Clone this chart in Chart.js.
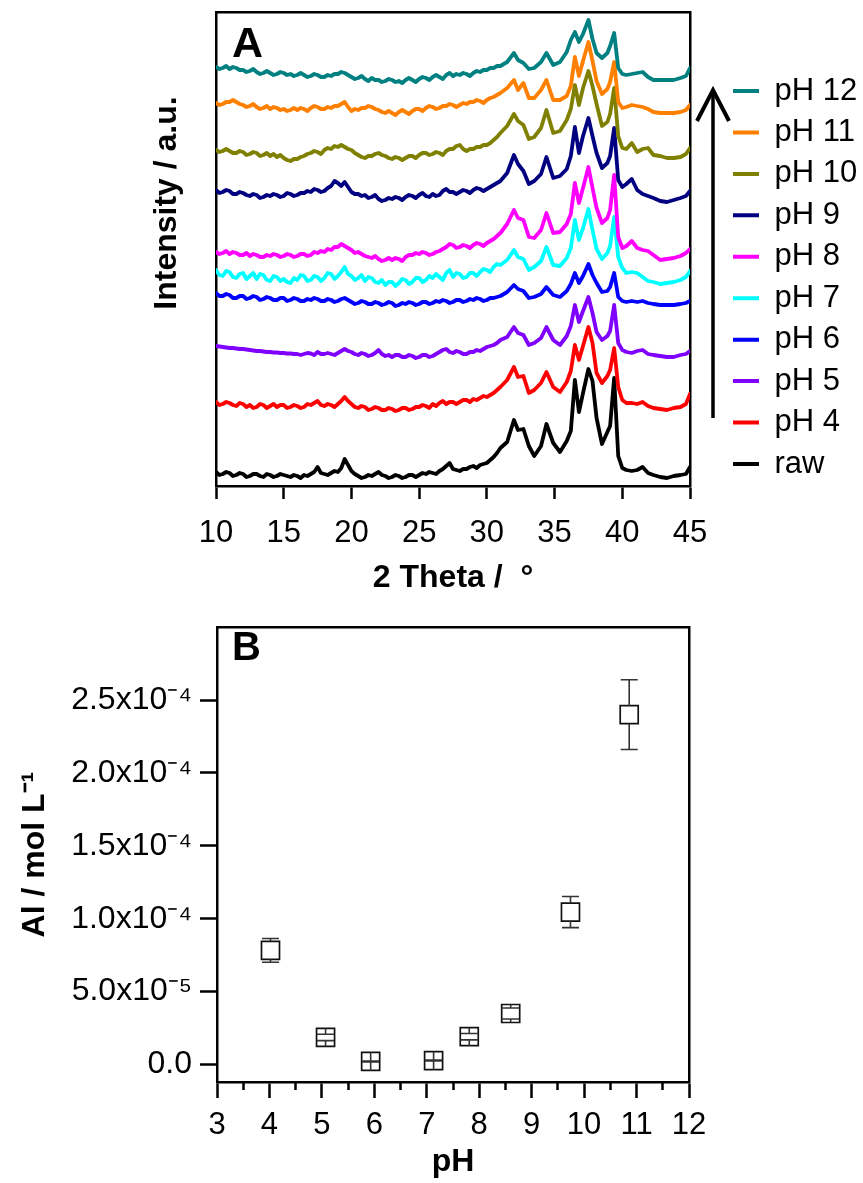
<!DOCTYPE html>
<html>
<head>
<meta charset="utf-8">
<script src="https://cdn.jsdelivr.net/npm/chart.js@4.4.0/dist/chart.umd.min.js"></script>
<style>
html,body{margin:0;padding:0;background:#fff;}
#wrap{position:relative;width:863px;height:1183px;background:#fff;overflow:hidden;}
canvas{position:absolute;left:0;}
#cA{top:0;}
#cB{top:600px;}
</style>
</head>
<body>
<div id="wrap">
<canvas id="cA" width="863" height="600"></canvas>
<canvas id="cB" width="863" height="583"></canvas>
</div>
<script>
// ---------- Panel A: XRD patterns (stacked, arbitrary units) ----------
const twoTheta = [
  10,10.25,10.5,10.75, 11,11.25,11.5,11.75, 12,12.25,12.5,12.75, 13,13.25,13.5,13.75, 14,14.25,14.5,14.75,
  15,15.25,15.5,15.75, 16,16.25,16.5,16.75, 17,17.25,17.5,17.75, 18,18.25,18.5,18.75, 19,19.25,19.5,19.75,
  20,20.25,20.5,20.75, 21,21.25,21.5,21.75, 22,22.25,22.5,22.75, 23,23.25,23.5,23.75, 24,24.25,24.5,24.75,
  25,25.25,25.5,25.75, 26,26.25,26.5,26.75, 27,27.25,27.5,27.75, 28,28.25,28.5,28.75, 29,29.25,29.5,29.75,
  30,30.25,30.5,30.75, 31,
  31.5,32.0,32.3,32.7,33.1,33.5,34.0,34.4,34.9,35.4,35.9,36.2,36.5,36.8,37.1,37.5,37.8,38.1,38.5,38.9,39.1,39.4,39.7,40.0,40.3,40.7,41.1,41.5,41.9,42.3,42.8,43.3,43.8,44.3,44.7,45];

const rawI = [14,11,12,14, 13,10,11,13, 12,9,10,12, 12,10,9,12, 11,9,10,12, 11,10,9,11, 10,8,11,10, 12,14,19,13, 12,11,13,15, 14,18,27,21,
  15,12,10,8, 9,11,10,12, 14,11,10,8, 9,11,10,8, 9,11,11,9, 11,13,12,14, 13,12,15,17, 20,23,17,16, 15,17,17,19, 20,18,21,22, 23,26,29,33, 38,
  44,66,56,57,40,30,40,62,43,34,45,55,106,74,93,117,105,68,42,54,60,108,30,18,16,15,16,19,13,11,9,8,10,11,12,19];
const pH4I = [84,81,82,84, 83,81,80,83, 82,79,81,78, 79,82,81,78, 80,82,79,81, 81,78,79,81, 80,78,79,82, 81,83,85,81, 80,82,81,79, 82,85,89,85,
  82,79,78,80, 79,76,77,79, 78,76,76,78, 77,75,76,78, 78,76,77,79, 79,81,80,78, 82,80,83,85, 82,84,84,82, 84,86,86,84, 87,86,88,90, 89,91,93,96, 99,
  106,119,109,110,93,96,103,114,99,94,104,115,141,126,140,159,143,113,103,110,116,138,99,86,83,83,82,84,80,78,77,76,78,79,82,92];
const pH5I = [140,139.5,139,138.5, 138,138,137.5,137, 137,136.5,136,135.5, 135,135,134.5,134, 134,133.5,133.5,133, 133,132.5,132.5,132, 132,131,132,133, 132.5,131,134,132, 132,133,132,131, 133,135,137,135,
  134,132,131,133, 132,130,131,133, 136,132,130,131, 129,131,131,129, 129,131,130,128, 129,131,131,129, 130,132,134,136, 137,134,133,135, 134,132,132,134, 134,136,135,137, 139,140,141,143, 146,
  149,159,153,151,141,143,148,159,146,141,150,160,181,164,175,189,173,154,146,150,155,181,143,136,134,133,135,136,132,131,130,129,129,131,132,135];
const pH6I = [193,190,190,192, 191,188,188,190, 190,187,188,190, 189,186,187,189, 188,186,186,188, 188,185,186,188, 187,185,185,187, 186,188,187,185, 185,187,186,184, 185,187,188,186,
  184,182,183,185, 184,182,182,184, 183,181,182,184, 183,180,181,183, 182,184,183,181, 182,184,184,182, 183,185,184,186, 185,183,184,186, 186,184,185,187, 186,188,187,185, 186,188,188,189, 190,
  194,201,197,195,188,189,192,199,191,189,195,202,213,203,210,222,211,203,194,195,199,213,189,185,184,185,184,185,183,182,181,181,181,182,183,185];
const pH7I = [216,211,210,215, 214,209,208,212, 213,207,210,213, 207,212,211,206, 205,210,209,205, 207,204,203,208, 206,211,210,205, 206,210,209,205, 208,213,212,207, 210,214,219,212,
  210,206,208,211, 205,209,208,204, 203,206,201,204, 204,200,203,207, 206,202,204,208, 208,204,206,210, 208,212,209,206, 213,216,209,213, 212,208,209,213, 213,210,214,217, 216,214,219,222, 221,
  226,236,229,227,216,219,225,239,221,220,228,238,266,246,258,277,256,237,227,233,240,269,229,218,213,214,213,209,205,204,202,203,204,206,209,215];
const pH8I = [234,232,233,235, 232,234,233,231, 231,233,230,232, 231,229,229,231, 230,232,231,229, 230,232,231,229, 230,232,232,230, 231,234,233,235, 234,237,236,239, 239,242,240,238,
  236,233,234,232, 230,229,228,230, 227,225,226,228, 226,228,227,225, 229,231,231,233, 232,234,233,231, 232,234,235,237, 239,242,241,238, 239,241,240,238, 241,243,242,240, 243,245,247,250, 253,
  262,276,268,266,249,248,256,273,253,254,262,272,303,283,298,319,298,278,263,268,276,311,249,238,240,245,238,236,235,231,226,227,228,230,233,237];
const pH9I = [296,293,294,296, 295,292,292,294, 293,291,290,292, 291,288,289,291, 290,292,291,289, 290,293,292,290, 291,293,293,295, 294,297,296,294, 295,298,300,305, 303,300,304,299,
  294,292,292,290, 291,288,289,291, 287,285,286,288, 287,289,288,286, 289,291,290,288, 291,293,290,289, 292,290,291,295, 297,294,294,292, 294,296,295,293, 296,298,297,295, 297,299,301,303, 305,
  313,331,322,315,302,305,312,329,308,310,317,330,359,333,350,368,350,333,318,323,330,358,306,299,302,307,296,292,290,288,285,284,286,288,290,295];
const pH10I = [336,334,335,337, 335,333,333,335, 334,331,332,334, 333,330,331,333, 330,332,329,331, 328,326,325,327, 327,329,330,332, 333,335,334,332, 336,338,337,340, 339,341,339,337,
  336,333,331,329, 328,330,330,332, 333,331,330,328, 327,329,328,326, 328,330,330,328, 331,333,333,331, 332,334,333,331, 335,337,337,340, 341,337,335,337, 337,339,339,341, 341,343,346,349, 353,
  360,372,365,361,347,349,358,376,353,355,366,377,401,381,398,415,400,382,360,364,372,398,350,338,337,343,334,337,338,331,330,328,328,329,332,338];
const pH11I = [383,381,382,384, 384,386,384,382, 381,379,380,382, 379,377,378,380, 377,379,378,376, 377,375,376,378, 376,378,377,375, 378,380,379,377, 377,379,378,380, 380,382,384,379,
  375,377,376,378, 378,380,379,377, 376,374,373,375, 373,371,374,376, 374,372,375,377, 377,375,378,380, 379,377,378,380, 380,382,381,379, 381,383,382,384, 384,386,385,383, 386,388,389,391, 393,
  398,406,396,403,388,388,396,406,386,386,390,400,429,410,425,444,425,405,392,397,404,424,384,378,379,381,380,379,377,374,373,373,373,374,376,381];
const pH12I = [419,417,418,420, 417,419,418,416, 416,414,415,417, 414,412,413,415, 413,411,412,414, 413,411,412,410, 411,413,411,409, 410,412,411,409, 409,411,410,412, 412,414,413,411,
  409,407,408,410, 407,405,408,406, 406,404,405,407, 406,404,405,403, 406,408,406,404, 407,409,408,406, 409,411,409,407, 411,413,410,412, 411,413,412,410, 413,415,414,416, 416,418,418,420, 420,
  424,433,426,423,417,418,424,433,421,424,434,446,454,444,452,466,447,433,428,433,440,453,418,412,411,412,413,414,409,406,406,406,406,408,410,418];

const seriesNames  = ['pH 12','pH 11','pH 10','pH 9','pH 8','pH 7','pH 6','pH 5','pH 4','raw'];
const seriesValues = [pH12I, pH11I, pH10I, pH9I, pH8I, pH7I, pH6I, pH5I, pH4I, rawI];
const seriesColors = ['#008080','#FF8000','#808000','#000080','#FF00FF','#00FFFF','#0000FF','#8000FF','#FF0000','#000000'];
const xTicksA = [10,15,20,25,30,35,40,45];

// ---------- Panel B: dissolved Al vs pH ----------
const phValues  = [4.02, 5.07, 5.93, 7.13, 7.81, 8.60, 9.74, 10.86];
const alValues  = [7.83e-5, 1.86e-5, 0.21e-5, 0.27e-5, 1.91e-5, 3.50e-5, 1.046e-4, 2.40e-4];
const alErrors  = [0.81e-5, 0.22e-5, 0.03e-5, 0.03e-5, 0.22e-5, 0.38e-5, 1.07e-5, 2.39e-5];
const xTicksB = [3,4,5,6,7,8,9,10,11,12];
const xMinorTicksB = [3.5,4.5,5.5,6.5,7.5,8.5,9.5,10.5,11.5];
const yTicksB = [0, 5e-5, 1e-4, 1.5e-4, 2e-4, 2.5e-4];
const yTickLabelsB = ['0.0','5.0x10\u207B\u2075','1.0x10\u207B\u2074','1.5x10\u207B\u2074','2.0x10\u207B\u2074','2.5x10\u207B\u2074'];

// ---------- common settings ----------
const FONT = "'Liberation Sans', Arial, Helvetica, sans-serif";
Chart.defaults.font.family = FONT;
Chart.defaults.color = '#000';
const AX = '#000';
const AXW = 2.5;

const textPlugin = {
  id: 'panelText',
  afterDraw(chart, args, opts) {
    const ctx = chart.ctx;
    (opts.items || []).forEach(it => {
      ctx.save();
      ctx.font = it.font;
      ctx.fillStyle = '#000';
      ctx.textAlign = it.align || 'left';
      ctx.textBaseline = it.baseline || 'alphabetic';
      ctx.translate(it.x, it.y);
      if (it.rotate) ctx.rotate(it.rotate);
      ctx.fillText(it.text, 0, 0);
      ctx.restore();
    });
  }
};

const arrowPlugin = {
  id: 'upArrow',
  afterDraw(chart, args, opts) {
    if (!opts.x) return;
    const ctx = chart.ctx;
    ctx.save();
    ctx.strokeStyle = '#000';
    ctx.lineWidth = 3.5;
    ctx.lineCap = 'butt';
    ctx.lineJoin = 'miter';
    ctx.beginPath();
    ctx.moveTo(opts.x, opts.y0);
    ctx.lineTo(opts.x, opts.y1 + 3);
    ctx.stroke();
    ctx.lineWidth = 4;
    ctx.beginPath();
    ctx.moveTo(opts.x - 16, opts.y1 + 33);
    ctx.lineTo(opts.x, opts.y1 + 2);
    ctx.lineTo(opts.x + 16, opts.y1 + 33);
    ctx.stroke();
    ctx.restore();
  }
};

const errorBarPlugin = {
  id: 'errorBars',
  afterDatasetsDraw(chart, args, opts) {
    if (!opts.enabled) return;
    const {ctx, scales: {x, y}} = chart;
    const half = 9, cap = 8.5;
    ctx.save();
    ctx.strokeStyle = '#333';
    ctx.lineWidth = 1.6;
    phValues.forEach((p, i) => {
      const px = x.getPixelForValue(p);
      const py = y.getPixelForValue(alValues[i]);
      [1, -1].forEach(s => {
        const ye = y.getPixelForValue(alValues[i] + s * alErrors[i]);
        const edge = py - s * half;
        ctx.beginPath();
        ctx.moveTo(px, edge);
        ctx.lineTo(px, ye);
        ctx.moveTo(px - cap, ye);
        ctx.lineTo(px + cap, ye);
        ctx.stroke();
      });
    });
    ctx.restore();
  }
};

function frameAxis(pos, min, max, size) {
  return {
    type: 'linear', position: pos, min, max, display: true,
    ticks: {display: false},
    grid: {display: false, drawTicks: false},
    border: {display: true, color: AX, width: AXW},
    afterFit: s => { if (pos === 'top' || pos === 'bottom') s.height = size; else s.width = size; }
  };
}

// ---------- Chart A ----------
const datasetsA = seriesNames.map((name, k) => ({
  label: name,
  data: twoTheta.map((t, i) => ({x: t, y: seriesValues[k][i]})),
  borderColor: seriesColors[k],
  backgroundColor: seriesColors[k],
  borderWidth: 3.8,
  pointRadius: 0,
  tension: 0,
  fill: false,
  borderJoinStyle: 'round',
  borderCapStyle: 'round'
}));

new Chart(document.getElementById('cA'), {
  type: 'line',
  data: {datasets: datasetsA},
  plugins: [textPlugin, arrowPlugin],
  options: {
    responsive: false, animation: false, devicePixelRatio: 1, events: [],
    layout: {padding: {top: 12, left: 0, right: 0, bottom: 0}},
    scales: {
      x: {
        type: 'linear', position: 'bottom', min: 10, max: 45,
        afterBuildTicks: s => { s.ticks = xTicksA.map(v => ({value: v})); },
        ticks: {color: '#000', font: {size: 31}, padding: 15.4, autoSkip: false, maxRotation: 0},
        grid: {drawOnChartArea: false, drawTicks: true, tickLength: 13, tickWidth: AXW, tickColor: AX},
        border: {display: true, color: AX, width: AXW},
        title: {display: true, text: '2 Theta /  \u00B0', color: '#000', font: {size: 32, weight: 'bold'}, padding: {top: 0, bottom: 2.8}},
        afterFit: s => { s.height = 114; }
      },
      x2: frameAxis('top', 10, 45, 0),
      y: {
        type: 'linear', position: 'left', min: 0, max: 474,
        ticks: {display: false},
        grid: {display: false, drawTicks: false},
        border: {display: true, color: AX, width: AXW},
        afterFit: s => { s.width = 216; }
      },
      y2: frameAxis('right', 0, 474, 32.56)
    },
    plugins: {
      tooltip: {enabled: false},
      legend: {
        display: true, position: 'right', align: 'start', maxWidth: 140.44,
        title: {display: true, text: '', font: {size: 12}, padding: {top: 38.66, bottom: 0}},
        labels: {
          color: '#000', font: {size: 31}, boxWidth: 26, boxHeight: 4, padding: 10.44,
          generateLabels: chart => Chart.defaults.plugins.legend.labels.generateLabels(chart).map(l => Object.assign(l, {lineWidth: 0, fillStyle: l.strokeStyle}))
        }
      },
      panelText: {items: [
        {text: 'A', x: 232, y: 57, font: 'bold 43px ' + FONT},
        {text: 'Intensity / a.u.', x: 167, y: 203, font: 'bold 32px ' + FONT, align: 'center', baseline: 'middle', rotate: -Math.PI / 2}
      ]},
      upArrow: {x: 713, y0: 418, y1: 88}
    }
  }
});

// ---------- Chart B ----------
new Chart(document.getElementById('cB'), {
  type: 'scatter',
  data: {datasets: [{
    label: 'Al',
    data: phValues.map((p, i) => ({x: p, y: alValues[i]})),
    pointStyle: 'rect',
    pointRadius: 12.73,
    borderColor: '#111',
    borderWidth: 1.7,
    backgroundColor: 'rgba(255,255,255,0)',
    showLine: false
  }]},
  plugins: [textPlugin, errorBarPlugin],
  options: {
    responsive: false, animation: false, devicePixelRatio: 1, events: [],
    layout: {padding: {top: 7, left: 0, right: 174, bottom: 0}},
    scales: {
      xMinor: {
        type: 'linear', position: 'bottom', min: 3, max: 12, weight: 0,
        afterBuildTicks: s => { s.ticks = xMinorTicksB.map(v => ({value: v})); },
        ticks: {display: false},
        grid: {drawOnChartArea: false, drawTicks: true, tickLength: 8, tickWidth: AXW, tickColor: AX},
        border: {display: false},
        afterFit: s => { s.height = 0; }
      },
      x: {
        type: 'linear', position: 'bottom', min: 3, max: 12, weight: 1,
        afterBuildTicks: s => { s.ticks = xTicksB.map(v => ({value: v})); },
        ticks: {color: '#000', font: {size: 31}, padding: 8.4, autoSkip: false, maxRotation: 0},
        grid: {drawOnChartArea: false, drawTicks: true, tickLength: 16, tickWidth: AXW, tickColor: AX},
        border: {display: true, color: AX, width: AXW},
        title: {display: true, text: 'pH', color: '#000', font: {size: 32, weight: 'bold'}, padding: {top: 0, bottom: 1.8}},
        afterFit: s => { s.height = 101; }
      },
      x2: frameAxis('top', 3, 12, 0),
      y: {
        type: 'linear', position: 'left', min: -1.2e-5, max: 3.0e-4,
        afterBuildTicks: s => { s.ticks = yTicksB.map(v => ({value: v})); },
        ticks: {color: '#000', font: {size: 32}, padding: 8, autoSkip: false, callback: (v, i) => yTickLabelsB[i]},
        grid: {drawOnChartArea: false, drawTicks: true, tickLength: 17, tickWidth: AXW, tickColor: AX},
        border: {display: true, color: AX, width: AXW},
        title: {display: true, text: 'Al / mol L\u207B\u00B9', color: '#000', font: {size: 32, weight: 'bold'}, padding: {top: 15.8, bottom: 0}},
        afterFit: s => { s.width = 217; }
      },
      y2: frameAxis('right', -1.2e-5, 3.0e-4, 0)
    },
    plugins: {
      tooltip: {enabled: false},
      legend: {display: false},
      errorBars: {enabled: true},
      panelText: {items: [
        {text: 'B', x: 232, y: 60, font: 'bold 40px ' + FONT}
      ]}
    }
  }
});
</script>
</body>
</html>
